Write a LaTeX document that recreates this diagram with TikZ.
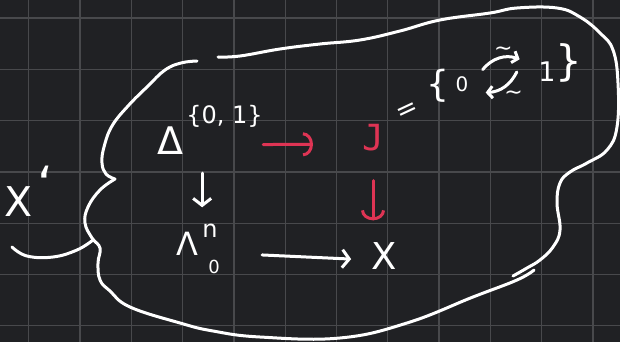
\documentclass[tikz,border=0pt]{standalone}
\usepackage{fontspec}
\setmainfont{DejaVu Sans}
\newfontfamily\monof{DejaVu Sans Mono}
\usetikzlibrary{arrows.meta,positioning}
\definecolor{board}{RGB}{32,33,36}
\definecolor{gridc}{RGB}{72,73,76}
\definecolor{pen}{RGB}{222,52,84}

\begin{document}
\begin{tikzpicture}[x=1pt, y=-1pt,
  ink/.style={draw=white, line width=3pt, line cap=round, line join=round},
  redink/.style={ink, draw=pen},
  txt/.style={text=white, inner sep=0pt, font=\fontsize{#1}{#1}\selectfont},
  arr/.style={ink, -{Straight Barb[length=7pt, width=18pt]}},
  smallarr/.style={ink, -{Straight Barb[length=5pt, width=12pt]}},
  redarr/.style={redink, -{Arc Barb[length=10pt, width=24pt]}},
  gridline/.style={draw=gridc, line width=1.3pt},
]
\useasboundingbox (0,0) rectangle (620,342);
\fill[board] (0,0) rectangle (620,342);
\foreach \i in {0,...,11}
  \draw[gridline] ({28.7+51.3*\i},0) -- ({28.7+51.3*\i},342);
\foreach \j in {0,...,6}
  \draw[gridline] (0,{18+51.3*\j}) -- (620,{18+51.3*\j});

\draw[ink] plot[smooth, tension=0.7] coordinates {(197,61) (181,63) (165,70)
  (148,86) (128,106) (112,126) (104,147) (102,163) (106,174) (115,179)};
\draw[ink] plot[smooth, tension=0.7] coordinates {(115,179) (100,190) (88,207)
  (85,223) (92,238) (100,248) (98,263) (100,280) (110,291) (130,307) (180,323)
  (213,331) (260,337) (340,338) (407,323) (473,297) (517,280) (534,270)};
\draw[ink] plot[smooth, tension=0.7] coordinates {(12,247) (27,256) (53,257)
  (77,250) (93,240)};
\draw[ink] plot[smooth, tension=0.7] coordinates {(218,57) (240,56) (280,49)
  (320,44) (360,40) (400,31) (440,20) (490,13) (517,8) (557,8) (580,17)
  (600,33) (613,50) (618,83) (617,127) (607,150) (587,163) (570,172) (560,183)
  (557,203) (560,230) (553,247) (540,260) (527,268) (513,276)};

\node[txt=38] (delta) at (170,141) {Δ};
\node[txt=24, above right=-1pt and 3pt of delta.north east] (dsup) {\{0, 1\}};
\node[txt=36, text=pen, font=\monof\fontsize{36}{36}\selectfont] (J) at (373,138) {J};
\node[txt=32] (horn) at (187,244) {Λ};
\node[txt=24, above right=-6pt and 4pt of horn.north east] (hsup) {n};
\node[txt=18, below right=4pt and 10pt of horn.south east] (hsub) {0};
\node[txt=37] (X) at (384,256) {X};
\node[txt=41] (Xl) at (19,202) {X};
\node[txt=50, anchor=north west] (tick) at (37,166) {\symbol{96}};

\node[txt=26, rotate=25] (eq) at (408,112) {=};
\node[txt=36] (lbr) at (438,86) {\{};
\node[txt=20, circle, minimum size=50pt] (zero) at (462,84) {0};
\node[txt=27, circle, minimum size=60pt] (one) at (547,72) {1};
\node[txt=42] (rbr) at (569,63) {\}};

\draw[smallarr] (zero.35) to[bend left=35] node[txt=22, above, pos=0.6] {∼} (one.155);
\draw[smallarr] (one.180) to[bend left=30] node[txt=22, below=12pt, pos=0.15] {∼} (zero.340);

\draw[redarr, shorten <=80pt, shorten >=49pt] ([yshift=-4pt]delta.east) -- ([yshift=-6pt]J.west);
\draw[redarr, shorten <=29pt, shorten >=22pt] (J.south) -- (J.south |- X.north);
\draw[arr, shorten <=18pt, shorten >=17pt] (delta.south -| hsup.west) -- (hsup.north west);
\draw[arr, shorten <=64pt, shorten >=20pt] ([yshift=-8pt]horn.east) -- ([yshift=-4pt]X.west);
\end{tikzpicture}
\end{document}
